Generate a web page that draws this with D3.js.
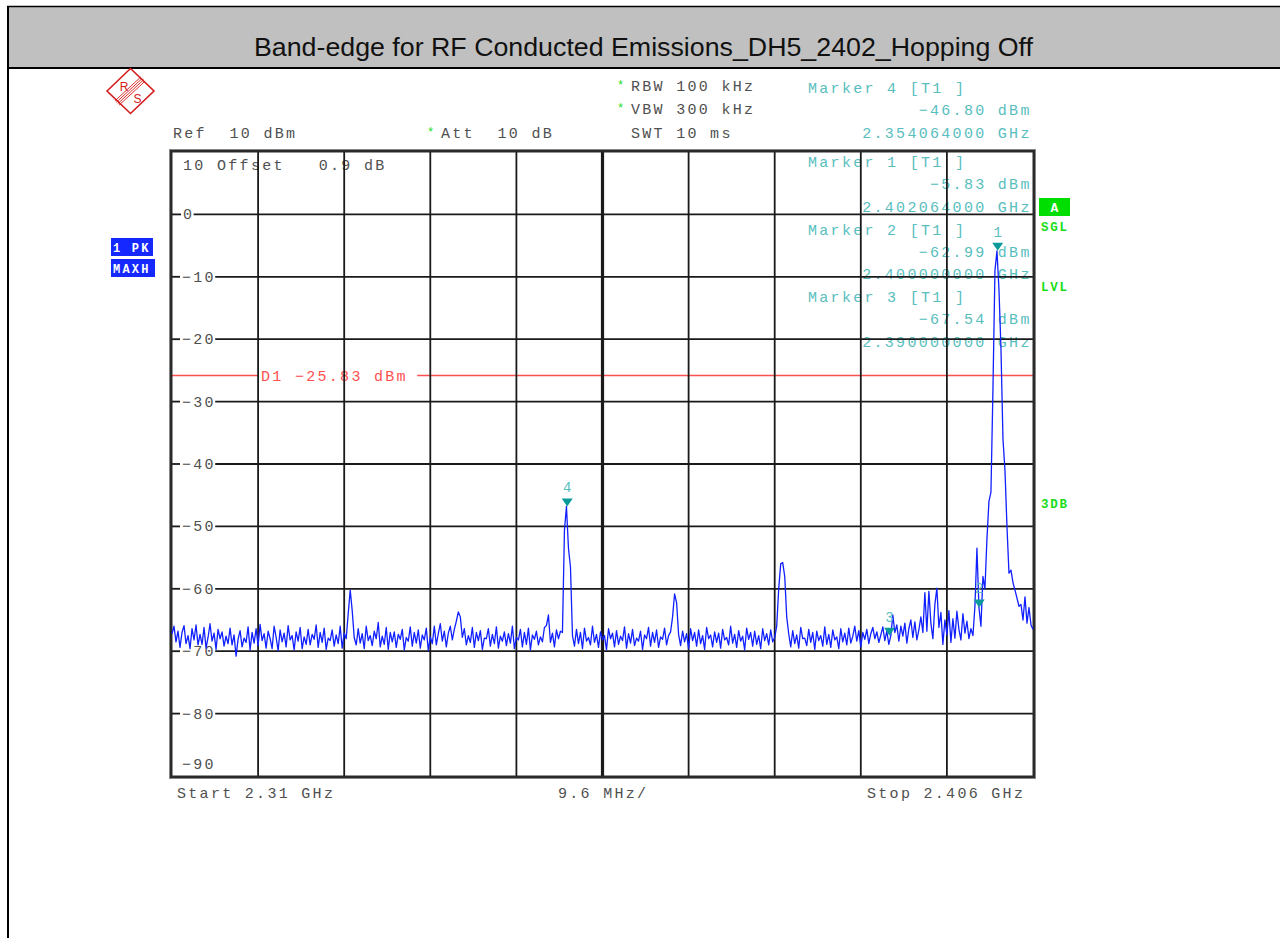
<!DOCTYPE html>
<html><head><meta charset="utf-8">
<script src="https://cdn.jsdelivr.net/npm/d3@7"></script>
<style>html,body{margin:0;padding:0;background:#fff;overflow:hidden}svg{display:block}</style>
</head><body>
<svg id="c" width="1280" height="938"></svg>
<script>
// ---------------- DATA ----------------
const title = "Band-edge for RF Conducted Emissions_DH5_2402_Hopping Off";
const startGHz = 2.31, stopGHz = 2.406, spanLabel = "9.6 MHz/";
const refLevel = 10, bottomLevel = -90;
const yTickValues = [0, -10, -20, -30, -40, -50, -60, -70, -80];
const yTickLabels = ["0", "−10", "−20", "−30", "−40", "−50", "−60", "−70", "−80"];
const topLabel = "10", bottomLabel = "−90";
const offsetText = "Offset   0.9 dB";
const d1Level = -25.83, d1Text = "D1 −25.83 dBm";
const settingTexts = ["RBW 100 kHz", "VBW 300 kHz", "SWT 10 ms"];
const settingStars = [true, true, false];
const refText = "Ref  10 dBm", attText = "Att  10 dB";
const markerIds = ["4", "1", "2", "3"];
const markerFreqGHz = [2.354064, 2.402064, 2.400000, 2.390000];
const markerDbm = [-46.80, -5.83, -62.99, -67.54];
const markerHead = ["Marker 4 [T1 ]", "Marker 1 [T1 ]", "Marker 2 [T1 ]", "Marker 3 [T1 ]"];
const markerValTxt = ["−46.80 dBm", "−5.83 dBm", "−62.99 dBm", "−67.54 dBm"];
const markerFreqTxt = ["2.354064000 GHz", "2.402064000 GHz", "2.400000000 GHz", "2.390000000 GHz"];
const sideGreen = ["SGL", "LVL", "3DB"];
const traceLabels = ["1 PK", "MAXH"];
const startText = "Start 2.31 GHz", stopText = "Stop 2.406 GHz";
// trace (dBm), equally spaced sweep points from start to stop
const traceDbm = [
-67.2,-66.0,-68.5,-66.8,-69.4,-67.0,-65.9,-68.8,-67.5,-69.6,
-66.4,-68.2,-65.8,-69.0,-67.3,-68.9,-66.2,-69.5,-67.8,-65.6,
-68.4,-67.1,-69.7,-66.5,-68.0,-66.9,-69.2,-67.6,-68.8,-66.3,
-69.0,-67.4,-70.8,-68.1,-66.7,-69.3,-67.9,-68.6,-66.1,-69.8,
-67.0,-68.7,-66.4,-69.1,-65.7,-68.3,-67.2,-69.5,-66.8,-68.0,
-69.6,-66.0,-67.8,-69.9,-66.6,-68.5,-67.1,-69.3,-65.9,-68.2,
-67.5,-69.8,-66.9,-68.4,-66.2,-69.6,-67.7,-68.9,-66.5,-69.0,
-67.3,-68.1,-65.8,-69.4,-67.0,-68.6,-66.3,-69.7,-67.9,-68.3,
-66.6,-69.2,-67.4,-68.8,-66.0,-69.5,-67.1,-68.0,-64.0,-60.2,
-63.5,-67.8,-69.0,-66.4,-68.7,-67.2,-69.6,-66.0,-68.3,-67.5,
-69.1,-66.8,-68.0,-65.4,-69.3,-67.6,-68.9,-66.2,-69.7,-67.0,
-68.5,-66.9,-69.4,-67.3,-68.1,-66.5,-69.8,-67.8,-68.4,-66.1,
-69.2,-67.0,-68.7,-66.6,-69.5,-67.4,-68.2,-66.3,-69.9,-67.7,
-68.8,-66.0,-69.0,-67.2,-65.6,-68.4,-66.8,-69.3,-67.1,-66.0,
-68.2,-66.5,-65.2,-63.7,-64.5,-67.8,-66.4,-69.0,-67.5,-68.6,
-66.2,-69.4,-67.0,-68.3,-66.7,-69.7,-67.9,-68.0,-66.4,-69.2,
-67.3,-68.8,-66.1,-69.5,-67.6,-68.4,-66.9,-69.1,-67.2,-68.7,
-66.0,-69.6,-67.8,-68.2,-66.5,-69.3,-67.0,-68.9,-66.3,-69.8,
-67.4,-68.1,-66.8,-69.0,-67.7,-68.5,-66.2,-65.9,-64.2,-68.6,
-67.1,-69.3,-66.6,-68.0,-66.8,-67.0,-50.6,-46.8,-53.5,-56.5,
-67.5,-69.2,-66.5,-68.8,-67.0,-69.6,-66.3,-68.4,-67.8,-69.0,
-66.0,-68.6,-67.3,-69.4,-66.9,-68.2,-67.5,-69.8,-66.4,-68.0,
-67.1,-69.3,-66.7,-68.9,-67.6,-68.3,-66.1,-69.5,-67.2,-68.7,
-66.5,-69.1,-67.9,-68.4,-66.8,-69.7,-67.4,-68.0,-66.2,-69.2,
-67.0,-68.6,-66.6,-69.4,-67.7,-68.1,-66.3,-69.0,-67.5,-66.9,
-64.5,-60.8,-62.2,-67.3,-69.1,-66.8,-68.5,-67.2,-69.6,-66.4,
-68.3,-67.0,-69.2,-66.6,-68.8,-67.5,-69.7,-66.2,-68.0,-67.4,
-69.3,-66.9,-68.6,-67.1,-69.5,-66.5,-68.2,-67.8,-69.0,-66.0,
-68.7,-67.3,-69.4,-66.7,-68.4,-67.6,-69.8,-66.3,-68.1,-67.0,
-69.2,-66.8,-68.9,-67.5,-69.6,-66.4,-68.3,-67.2,-69.0,-66.6,
-68.5,-67.8,-66.0,-60.0,-56.0,-55.8,-58.0,-64.5,-67.2,-69.3,
-66.7,-68.8,-67.4,-69.5,-66.2,-68.0,-67.9,-69.1,-66.5,-68.6,
-67.0,-69.7,-66.8,-68.3,-67.5,-69.2,-66.1,-68.9,-67.3,-69.4,
-66.6,-68.2,-67.7,-69.6,-66.4,-68.5,-67.1,-69.0,-66.3,-68.7,
-67.6,-66.0,-68.4,-66.7,-69.3,-67.0,-68.1,-66.5,-68.8,-67.2,
-66.2,-68.0,-66.9,-68.6,-67.4,-66.1,-68.3,-66.8,-68.9,-67.5,
-64.2,-67.0,-65.8,-68.4,-66.0,-67.6,-65.5,-68.7,-66.4,-65.0,
-67.8,-65.3,-68.2,-66.6,-64.5,-67.0,-60.6,-66.8,-60.4,-65.5,
-68.0,-62.5,-59.9,-66.2,-63.8,-68.9,-65.0,-67.4,-63.5,-68.6,
-64.8,-67.9,-63.6,-66.5,-68.2,-64.0,-67.1,-65.2,-68.0,-66.4,
-67.5,-62.8,-53.5,-63.0,-66.0,-58.0,-60.0,-52.0,-46.0,-44.5,
-28.0,-9.0,-5.83,-12.0,-21.5,-36.0,-41.0,-50.0,-57.5,-57.0,
-59.0,-60.2,-61.5,-62.8,-62.5,-65.0,-61.3,-65.5,-63.0,-65.8,-66.5
];

// ---------------- LAYOUT ----------------
const L = 172, R = 1033, T = 152, B = 776;
const MONO = "'Liberation Mono','Courier New',monospace";
const FS = 15, ADV = 11.3, LS = ADV - FS * 0.6;
const GRAY = "#505050", TEAL = "#58bebe", TEAL_D = "#0a9a9a", GREEN = "#18dd18", BLUE = "#1428ff", RED = "#ff5050";

const svg = d3.select("#c");
const x = d3.scaleLinear().domain([startGHz, stopGHz]).range([L, R]);
const y = d3.scaleLinear().domain([bottomLevel, refLevel]).range([B, T]);

function mono(g, xp, yp, str, color, size, ls) {
  return g.append("text").attr("x", xp).attr("y", yp).attr("fill", color)
    .attr("font-family", MONO).attr("font-size", size || FS)
    .attr("letter-spacing", ls == null ? LS : ls)
    .style("white-space", "pre").text(str);
}
const widthOf = s => (s.length - 1) * ADV + 8.6;
function monoEnd(g, xe, yp, str, color) { return mono(g, xe - widthOf(str), yp, str, color); }

// ---------------- FRAME / HEADER ----------------
svg.append("rect").attr("x", 0).attr("y", 0).attr("width", 1280).attr("height", 938).attr("fill", "#fff");
svg.append("rect").attr("x", 8).attr("y", 7).attr("width", 1272).attr("height", 61).attr("fill", "#c0c0c0");
svg.append("line").attr("x1", 7).attr("x2", 1280).attr("y1", 6.5).attr("y2", 6.5).attr("stroke", "#000").attr("stroke-width", 1.5);
svg.append("line").attr("x1", 8).attr("x2", 1280).attr("y1", 68).attr("y2", 68).attr("stroke", "#000").attr("stroke-width", 2);
svg.append("line").attr("x1", 8).attr("x2", 8).attr("y1", 6).attr("y2", 938).attr("stroke", "#000").attr("stroke-width", 2);
svg.append("text").attr("x", 643.5).attr("y", 56).attr("text-anchor", "middle")
  .attr("font-family", "'Liberation Sans',Arial,sans-serif").attr("font-size", 25.5)
  .attr("fill", "#111").attr("textLength", 779).attr("lengthAdjust", "spacingAndGlyphs").text(title);

// R&S logo
const logo = svg.append("g").attr("stroke", "#d41a1a").attr("fill", "none");
logo.append("path").attr("d", "M107,91 L130.5,68.5 L154,91 L130.5,113.5 Z").attr("stroke-width", 1.6);
[-3, -1, 1, 3].forEach(o => logo.append("line")
  .attr("x1", 117 + o * 0.7).attr("y1", 103 + o * 0.7).attr("x2", 143 + o * 0.7).attr("y2", 79 + o * 0.7).attr("stroke-width", 0.9));
svg.append("text").attr("x", 124).attr("y", 91).attr("text-anchor", "middle").attr("font-family", "'Liberation Sans',Arial,sans-serif")
  .attr("font-size", 12).attr("fill", "#d41a1a").text("R");
svg.append("text").attr("x", 137.5).attr("y", 103).attr("text-anchor", "middle").attr("font-family", "'Liberation Sans',Arial,sans-serif")
  .attr("font-size", 12).attr("fill", "#d41a1a").text("S");

// settings texts
const txt = svg.append("g");
mono(txt, 173, 138, refText, GRAY);
mono(txt, 427, 136, "*", GREEN, 12, 0);
mono(txt, 441, 138, attText, GRAY);
const setY = [91, 113.5, 138];
settingTexts.forEach((s, i) => {
  if (settingStars[i]) mono(txt, 617, setY[i] - 2, "*", GREEN, 12, 0);
  mono(txt, 631, setY[i], s, GRAY);
});
// marker info block
const mBase = [93, 167, 234.5, 302];
markerHead.forEach((s, i) => {
  const b = mBase[i];
  mono(txt, 808, b, s, TEAL);
  monoEnd(txt, 1029, b + 22.4, markerValTxt[i], TEAL);
  monoEnd(txt, 1029, b + 44.8, markerFreqTxt[i], TEAL);
});
// plot inner texts
mono(txt, 183, 170, topLabel, GRAY);
mono(txt, 217, 170, offsetText, GRAY);
mono(txt, 182, 769, bottomLabel, GRAY);
mono(txt, 177, 798, startText, GRAY);
mono(txt, 558, 798, spanLabel, GRAY);
mono(txt, 867, 798, stopText, GRAY);

// D1 line with label gap
const yd1 = y(d1Level);
const d1x = 261, d1w = widthOf(d1Text);
svg.append("line").attr("x1", L).attr("x2", d1x - 3).attr("y1", yd1).attr("y2", yd1).attr("stroke", RED).attr("stroke-width", 1.5);
svg.append("line").attr("x1", d1x + d1w + 12).attr("x2", R).attr("y1", yd1).attr("y2", yd1).attr("stroke", RED).attr("stroke-width", 1.5);
mono(svg, d1x, yd1 + 5, d1Text, RED);

// ---------------- GRID ----------------
const grid = svg.append("g").attr("stroke", "#1a1a1a");
const xTicks = d3.range(0, 11).map(k => startGHz + k * (stopGHz - startGHz) / 10);
xTicks.slice(1, 10).forEach((f, k) => grid.append("line").attr("x1", x(f)).attr("x2", x(f)).attr("y1", T).attr("y2", B)
  .attr("stroke-width", k === 4 ? 3.2 : 1.8));
yTickValues.forEach((v, i) => {
  const yy = y(v), lab = yTickLabels[i];
  const lx = lab.length === 1 ? 183 : 182;
  grid.append("line").attr("x1", L).attr("x2", lx - 2).attr("y1", yy).attr("y2", yy).attr("stroke-width", 1.8);
  grid.append("line").attr("x1", lx + widthOf(lab) + 2).attr("x2", R).attr("y1", yy).attr("y2", yy).attr("stroke-width", 1.8);
  mono(svg, lx, yy + 5, lab, GRAY);
});
// frame
svg.append("rect").attr("x", L - 1).attr("y", T - 1).attr("width", R - L + 2).attr("height", B - T + 2)
  .attr("fill", "none").attr("stroke", "#2a2a2a").attr("stroke-width", 3);
svg.append("rect").attr("x", L - 2.5).attr("y", T - 2.5).attr("width", R - L + 5).attr("height", B - T + 5)
  .attr("fill", "none").attr("stroke", "#888", ).attr("stroke-width", 1);

// ---------------- TRACE ----------------
const n = traceDbm.length;
const pts = traceDbm.map((v, i) => [startGHz + i * (stopGHz - startGHz) / (n - 1), v]);
svg.append("path").datum(pts).attr("fill", "none").attr("stroke", "#1020ff").attr("stroke-width", 1.3)
  .attr("stroke-linejoin", "round")
  .attr("d", d3.line().x(d => x(d[0])).y(d => y(d[1])));

// ---------------- MARKERS ----------------
markerIds.forEach((id, i) => {
  const mx = x(markerFreqGHz[i]), my = y(markerDbm[i]);
  svg.append("path").attr("d", `M${mx - 5.5},${my - 8} L${mx + 5.5},${my - 8} L${mx},${my} Z`).attr("fill", TEAL_D);
  mono(svg, mx - 4.3, my - 14, id, TEAL, 14, 0);
});

// ---------------- SIDE LABELS ----------------
svg.append("rect").attr("x", 1039).attr("y", 198).attr("width", 31).attr("height", 18).attr("fill", "#00dd00");
svg.append("text").attr("x", 1054.5).attr("y", 211.5).attr("text-anchor", "middle").attr("font-family", MONO)
  .attr("font-weight", "bold").attr("font-size", 13).attr("fill", "#fff").text("A");
const gy = [231, 291, 508];
sideGreen.forEach((s, i) => mono(svg, 1041, gy[i], s, GREEN, 12.5, 1.8).attr("font-weight", "bold"));
const bx = [[111, 238, 42], [111, 259, 44]];
traceLabels.forEach((s, i) => {
  svg.append("rect").attr("x", bx[i][0]).attr("y", bx[i][1]).attr("width", bx[i][2]).attr("height", 18).attr("fill", BLUE);
  mono(svg, 113, bx[i][1] + 13.5, s, "#fff", 12, 2.2).attr("font-weight", "bold");
});
</script>
</body></html>
